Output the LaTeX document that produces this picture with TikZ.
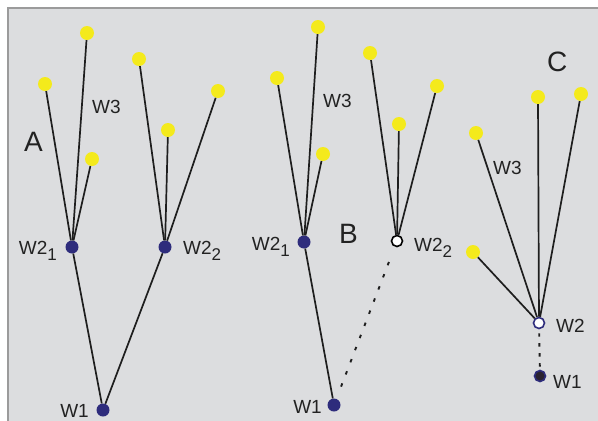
\documentclass[tikz,border=0pt]{standalone}
\usepackage{fontspec}
\setmainfont{Liberation Sans}
\definecolor{bgc}{HTML}{DCDDDF}
\definecolor{framec}{HTML}{9B9B9B}
\definecolor{navy}{HTML}{2E2C7C}
\definecolor{dotyellow}{HTML}{F4EA1C}
\definecolor{linecol}{HTML}{1E1E1E}
\definecolor{textcol}{HTML}{222222}
\definecolor{darkfill}{HTML}{2A2230}
\newcommand{\subw}[1]{\raisebox{-6pt}{\fontsize{17}{17}\selectfont #1}}
\begin{document}
\begin{tikzpicture}[x=1pt,y=-1pt,
  leaf/.style={circle,fill=dotyellow,inner sep=0pt,minimum size=14pt},
  hub/.style={circle,fill=navy,inner sep=0pt,minimum size=13pt},
  openhub/.style={circle,draw=#1,fill=white,line width=1.6pt,inner sep=0pt,minimum size=11pt},
  darkhub/.style={circle,draw=navy,fill=darkfill,line width=1.6pt,inner sep=0pt,minimum size=11pt},
  branch/.style={line width=1.7pt,draw=linecol},
  weak/.style={line width=1.9pt,draw=linecol,dash pattern=on 3.5pt off 9.5pt},
  lbl/.style={font=\fontsize{19}{19}\selectfont,text=textcol,inner sep=0pt},
  big/.style={font=\fontsize{28}{28}\selectfont,text=textcol,inner sep=0pt}]
\useasboundingbox (0,0) rectangle (598,421);
\fill[bgc] (8,8) rectangle (598,421);
\draw[framec,line width=1.5pt] (8,421) -- (8,8) -- (598,8);

% ---------- Tree A ----------
\node[hub] (a1) at (103,410) {};
\node[hub] (a21) at (72,247) {};
\node[hub] (a22) at (165,247) {};
\node[leaf] (a31) at (45,84) {};
\node[leaf] (a32) at (87,33) {};
\node[leaf] (a33) at (92,159) {};
\node[leaf] (a34) at (139,59) {};
\node[leaf] (a35) at (168,130) {};
\node[leaf] (a36) at (218,91) {};
\draw[branch] (a1) -- (a21);
\draw[branch] (a1) -- (a22);
\draw[branch] (a21) -- (a31);
\draw[branch] (a21) -- (a32);
\draw[branch] (a21) -- (a33);
\draw[branch] (a22) -- (a34);
\draw[branch] (a22) -- (a35);
\draw[branch] (a22) -- (a36);
\node[big,anchor=base west] (la) at (24,151) {A};
\node[lbl,anchor=base west] (la3) at (92,113) {W3};
\node[lbl,anchor=base east] (la21) at (57,254) {W2\subw{1}};
\node[lbl,anchor=base west] (la22) at (183,254) {W2\subw{2}};
\node[lbl,anchor=base east] (la1) at (89,417) {W1};

% ---------- Tree B ----------
\node[hub] (b1) at (334,405) {};
\node[hub] (b21) at (304,242) {};
\node[openhub=black] (b22) at (397,241) {};
\node[leaf] (b31) at (277,78) {};
\node[leaf] (b32) at (318,27) {};
\node[leaf] (b33) at (323,154) {};
\node[leaf] (b34) at (370,53) {};
\node[leaf] (b35) at (399,124) {};
\node[leaf] (b36) at (437,86) {};
\draw[branch] (b1) -- (b21);
\draw[weak,shorten <=13pt,shorten >=10pt] (b1) -- (b22);
\draw[branch] (b21) -- (b31);
\draw[branch] (b21) -- (b32);
\draw[branch] (b21) -- (b33);
\draw[branch] (b22) -- (b34);
\draw[branch] (b22) -- (b35);
\draw[branch] (b22) -- (b36);
\node[big,anchor=base west] (lb) at (339,243) {B};
\node[lbl,anchor=base west] (lb3) at (323,107) {W3};
\node[lbl,anchor=base east] (lb21) at (290,250) {W2\subw{1}};
\node[lbl,anchor=base west] (lb22) at (414,251) {W2\subw{2}};
\node[lbl,anchor=base east] (lb1) at (322,413) {W1};

% ---------- Tree C ----------
\node[darkhub] (c1) at (540,376) {};
\node[openhub=navy] (c2) at (539,323) {};
\node[leaf] (c31) at (476,133) {};
\node[leaf] (c32) at (538,97) {};
\node[leaf] (c33) at (581,94) {};
\node[leaf] (c34) at (473,252) {};
\draw[weak,dash pattern=on 3.5pt off 6.5pt,shorten <=3pt,shorten >=4pt] (c1) -- (c2);
\draw[branch] (c2) -- (c31);
\draw[branch] (c2) -- (c32);
\draw[branch] (c2) -- (c33);
\draw[branch] (c2) -- (c34);
\node[big,anchor=base west] (lc) at (547,71) {C};
\node[lbl,anchor=base west] (lc3) at (493,174) {W3};
\node[lbl,anchor=base west] (lc2) at (556,332) {W2};
\node[lbl,anchor=base west] (lc1) at (553,388) {W1};
\end{tikzpicture}
\end{document}
